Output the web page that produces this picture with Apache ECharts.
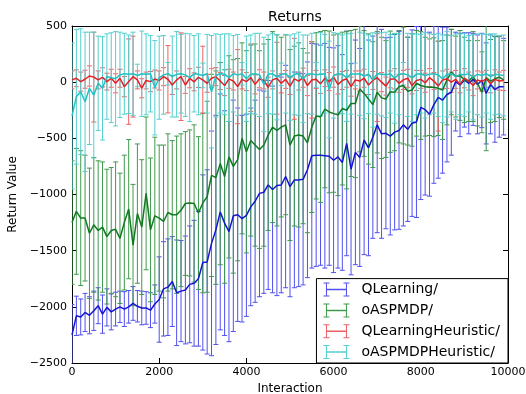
<!DOCTYPE html>
<html>
<head>
<meta charset="utf-8">
<script src="https://cdn.jsdelivr.net/npm/echarts@6/dist/echarts.min.js"></script>
<style>
html,body{margin:0;padding:0;background:#fff;}
#chart{width:526px;height:394px;}
</style>
</head>
<body>
<div id="chart"></div>
<script>
const interactions = [0,100,200,300,400,500,600,700,800,900,1000,1100,1200,1300,1400,1500,1600,1700,1800,1900,2000,2100,2200,2300,2400,2500,2600,2700,2800,2900,3000,3100,3200,3300,3400,3500,3600,3700,3800,3900,4000,4100,4200,4300,4400,4500,4600,4700,4800,4900,5000,5100,5200,5300,5400,5500,5600,5700,5800,5900,6000,6100,6200,6300,6400,6500,6600,6700,6800,6900,7000,7100,7200,7300,7400,7500,7600,7700,7800,7900,8000,8100,8200,8300,8400,8500,8600,8700,8800,8900,9000,9100,9200,9300,9400,9500,9600,9700,9800,9900];

const seriesNames = ['QLearning/', 'oASPMDP/', 'QLearningHeuristic/', 'oASPMDPHeuristic/'];

const qlearningMean = [-2250,-2080,-2090,-2050,-2075,-2035,-1990,-2065,-2005,-2045,-2020,-2000,-2020,-2000,-1970,-1995,-2010,-2010,-2030,-1975,-1935,-1840,-1825,-1775,-1875,-1860,-1850,-1800,-1790,-1750,-1605,-1600,-1435,-1315,-1155,-1255,-1330,-1190,-1180,-1215,-1185,-1110,-1060,-990,-980,-915,-955,-920,-915,-840,-930,-870,-870,-865,-780,-655,-650,-650,-655,-660,-695,-665,-715,-545,-775,-625,-670,-515,-585,-490,-380,-460,-455,-480,-445,-430,-380,-420,-365,-355,-225,-245,-285,-200,-135,-160,-110,-90,5,-25,20,-10,25,-20,15,-100,-20,-65,-40,-40];
const qlearningStd = [270,175,160,170,165,175,160,170,165,160,150,140,155,145,150,140,150,145,155,170,380,420,430,400,470,450,480,520,560,600,780,820,1000,1020,1050,1000,980,1030,950,920,900,880,900,920,900,930,920,980,960,990,980,960,950,940,960,1000,990,980,1000,970,1000,990,960,1000,940,1000,970,1020,960,900,960,930,850,880,870,880,900,820,830,850,820,760,730,700,720,650,600,560,440,460,420,450,410,440,420,450,440,470,450,430];

const oaspmdpMean = [-1250,-1150,-1210,-1210,-1345,-1270,-1320,-1290,-1375,-1320,-1310,-1390,-1250,-1130,-1450,-1170,-1290,-990,-1315,-1190,-1210,-1240,-1160,-1180,-1180,-1140,-1080,-1075,-1080,-1165,-1075,-1020,-830,-850,-725,-840,-665,-750,-690,-500,-620,-520,-560,-600,-560,-470,-400,-430,-400,-380,-560,-480,-470,-480,-540,-400,-300,-310,-240,-265,-280,-290,-235,-250,-190,-190,-60,-100,-150,-200,-90,-140,-150,-85,-90,-40,-30,-80,-70,-10,-30,-40,-45,-45,-55,-70,20,90,50,60,20,10,50,-10,-90,40,10,30,45,20];
const oaspmdpStd = [550,560,600,560,580,600,620,580,600,560,600,580,600,620,540,620,600,680,640,700,650,680,700,660,700,680,640,650,700,680,800,850,900,950,900,950,900,950,900,850,900,850,900,880,900,850,850,850,800,800,850,800,820,780,800,760,740,760,700,720,700,720,680,700,650,660,560,560,580,560,540,540,520,540,520,500,520,480,500,470,480,440,430,440,420,440,400,380,360,400,380,360,400,380,360,650,370,380,360,350];

const qlHeuristicMean = [20,35,5,26,55,45,20,43,5,35,-10,35,-40,5,49,20,-54,15,5,28,15,49,26,-25,20,49,-25,35,3,43,20,-10,35,49,10,-30,30,10,-40,25,5,40,-20,30,15,-45,20,35,-10,25,-35,30,10,40,-30,20,25,-15,35,5,45,-20,15,30,-40,20,10,35,-25,15,40,0,-35,25,30,-10,20,35,-30,15,25,-5,40,10,-35,20,30,0,25,-20,35,10,-30,20,5,30,-15,25,10,15];
const qlHeuristicStd = [80,75,85,80,90,400,80,85,75,80,85,80,90,380,360,80,85,75,90,80,85,80,300,85,80,390,75,85,80,90,300,80,85,80,75,90,85,80,330,85,80,300,85,80,75,90,80,320,85,80,75,360,80,85,90,340,80,85,75,80,90,85,80,75,85,80,90,80,85,80,390,85,80,75,90,80,85,80,75,90,80,85,80,75,400,80,85,90,80,75,85,80,90,80,85,75,80,85,80,90];

const oaHeuristicMean = [-300,-130,-85,-175,-55,-115,-10,-55,50,40,30,65,75,70,75,60,75,70,75,-50,40,65,75,50,70,75,65,40,75,70,60,75,-85,60,75,70,40,75,65,75,30,70,75,65,-20,70,75,45,70,75,40,70,75,30,70,75,65,70,75,-65,60,75,70,40,75,70,75,55,70,20,75,70,65,75,35,70,75,65,40,70,75,60,70,75,65,30,70,75,50,70,65,75,45,70,60,75,50,70,65,60];
const oaHeuristicStd = [650,600,560,620,500,560,420,460,380,400,420,380,360,350,370,100,380,360,340,420,370,350,100,360,380,350,370,390,340,360,110,350,500,370,350,360,390,340,360,100,380,350,360,370,420,350,360,380,100,350,380,360,370,390,350,360,110,370,350,430,380,360,350,390,360,100,370,380,350,420,360,370,380,350,400,360,100,370,390,360,350,380,360,350,370,390,380,340,380,360,370,340,380,360,370,350,380,360,350,360];

const lineColors = ['#1414d2', '#0f7a1f', '#e41f26', '#22c2c2'];
const barColors = ['#5050ee', '#3f9a4c', '#ee5f64', '#55cfcf'];

const means = [qlearningMean, oaspmdpMean, qlHeuristicMean, oaHeuristicMean];
const stds = [qlearningStd, oaspmdpStd, qlHeuristicStd, oaHeuristicStd];

const font = 'DejaVu Sans';
const chart = echarts.init(document.getElementById('chart'), null, {renderer: 'canvas'});

function fmt(v) { return v < 0 ? '\u2212' + Math.abs(v) : String(v); }

function makeRender(color) {
  return function (params, api) {
    const x = api.value(0), m = api.value(1), s = api.value(2);
    const t = api.coord([x, m + s]);
    const b = api.coord([x, m - s]);
    const c = 2.5;
    const style = {stroke: color, lineWidth: 1, fill: null};
    return {
      type: 'group',
      children: [
        {type: 'line', shape: {x1: t[0], y1: t[1], x2: b[0], y2: b[1]}, style: style},
        {type: 'line', shape: {x1: t[0] - c, y1: t[1], x2: t[0] + c, y2: t[1]}, style: style},
        {type: 'line', shape: {x1: b[0] - c, y1: b[1], x2: b[0] + c, y2: b[1]}, style: style}
      ]
    };
  };
}

const series = [];
for (let k = 0; k < 4; k++) {
  series.push({
    name: seriesNames[k],
    type: 'custom',
    renderItem: makeRender(barColors[k]),
    itemStyle: {color: barColors[k]},
    data: interactions.map((x, i) => [x, means[k][i], stds[k][i]]),
    encode: {x: 0, y: 1},
    clip: true,
    z: 2,
    silent: true,
    animation: false
  });
}
for (let k = 0; k < 4; k++) {
  series.push({
    name: seriesNames[k],
    type: 'line',
    data: interactions.map((x, i) => [x, means[k][i]]),
    showSymbol: false,
    symbol: 'none',
    lineStyle: {color: lineColors[k], width: 1.5},
    itemStyle: {color: lineColors[k]},
    z: 3,
    silent: true,
    animation: false
  });
}

const iconPath = 'path://M0 0L6 0L6 1L0 1Z M0 13L6 13L6 14L0 14Z M20 0L26 0L26 1L20 1Z M20 13L26 13L26 14L20 14Z M2.5 0L3.5 0L3.5 14L2.5 14Z M22.5 0L23.5 0L23.5 14L22.5 14Z M3 6.25L23 6.25L23 7.75L3 7.75Z';

const axisCommonX = {
  type: 'value', min: 0, max: 10000, interval: 2000,
  axisLine: {show: true, onZero: false, lineStyle: {color: '#000', width: 1}},
  axisTick: {show: true, inside: true, length: 5, lineStyle: {color: '#000'}},
  splitLine: {show: false}
};
const axisCommonY = {
  type: 'value', min: -2500, max: 500, interval: 500,
  axisLine: {show: true, onZero: false, lineStyle: {color: '#000', width: 1}},
  axisTick: {show: true, inside: true, length: 5, lineStyle: {color: '#000'}},
  splitLine: {show: false}
};

chart.setOption({
  animation: false,
  backgroundColor: '#fff',
  title: {
    text: 'Returns', left: 290, top: 5, textAlign: 'center',
    textStyle: {fontFamily: font, fontSize: 14, fontWeight: 'normal', color: '#000'}
  },
  grid: {left: 72, right: 18, top: 26, bottom: 31, containLabel: false, outerBoundsMode: 'none'},
  xAxis: [
    Object.assign({}, axisCommonX, {
      position: 'bottom',
      name: 'Interaction', nameLocation: 'middle', nameGap: 20,
      nameTextStyle: {fontFamily: font, fontSize: 12, color: '#000'},
      axisLabel: {show: true, margin: 4, fontFamily: font, fontSize: 11, color: '#000', formatter: fmt}
    }),
    Object.assign({}, axisCommonX, {position: 'top', axisLabel: {show: false}})
  ],
  yAxis: [
    Object.assign({}, axisCommonY, {
      position: 'left',
      name: 'Return Value', nameLocation: 'middle', nameGap: 43, nameRotate: 90,
      nameTextStyle: {fontFamily: font, fontSize: 12, color: '#000'},
      axisLabel: {show: true, margin: 5, fontFamily: font, fontSize: 11, color: '#000', formatter: fmt}
    }),
    Object.assign({}, axisCommonY, {position: 'right', axisLabel: {show: false}})
  ],
  legend: {
    orient: 'vertical',
    right: 18, bottom: 31,
    padding: [4, 8, 4, 7],
    itemWidth: 26, itemHeight: 14, itemGap: 6.8,
    backgroundColor: '#fff',
    borderColor: '#000', borderWidth: 1, borderRadius: 0,
    selectedMode: false,
    textStyle: {fontFamily: font, fontSize: 14, color: '#000', lineHeight: 14, padding: [0, 0, 0, 7]},
    data: seriesNames.map((n, k) => ({name: n, icon: iconPath, itemStyle: {color: barColors[k], borderWidth: 0}}))
  },
  series: series
});
</script>
</body>
</html>
